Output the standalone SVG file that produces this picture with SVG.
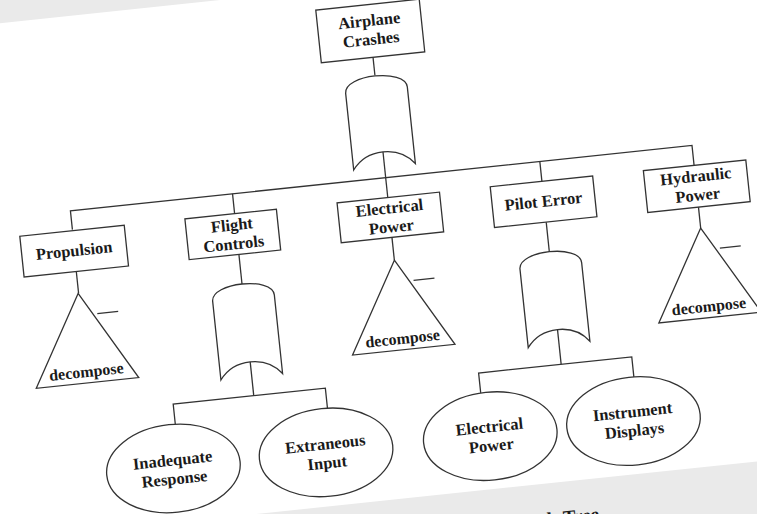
<svg xmlns="http://www.w3.org/2000/svg" width="757" height="514" viewBox="0 0 757 514">
<style>
.s{fill:#fff;stroke:#333;stroke-width:1.3}
.c{fill:none;stroke:#333;stroke-width:1.3}
.t{font-family:"Liberation Serif","Times New Roman",serif;font-weight:bold;font-size:16.5px;fill:#1a1a1a;text-anchor:middle}
.d{font-family:"Liberation Serif","Times New Roman",serif;font-weight:bold;font-size:16px;fill:#1a1a1a;text-anchor:middle}
</style>
<rect x="0" y="0" width="757" height="514" fill="#eaeaea"/>
<g transform="rotate(-6)">
<rect x="-200" y="23" width="1200" height="515" fill="#fff"/>
<text x="542" y="580" font-family="Liberation Serif, serif" font-weight="bold" font-size="19" fill="#1a1a1a" text-anchor="end">Fault Tree</text>

<g id="connectors" class="c">
<path d="M365,96 V114"/>
<path d="M365,191 V237"/>
<path d="M48,236 V217 H673 V238"/>
<path d="M211,217 V237"/>
<path d="M520,217 V237"/>
<path d="M47.5,278 V300"/>
<path d="M211,278 V308"/>
<path d="M365,277 V300"/>
<path d="M520,278 V308"/>
<path d="M673,278 V300"/>
<path d="M211,386 V420"/>
<path d="M130,440 V420 H283 V440"/>
<path d="M520,386 V421"/>
<path d="M437,441 V421 H591 V441"/>
</g>

<g id="airplane-crashes">
<rect class="s" x="313" y="43" width="104" height="53"/>
<text class="t" x="365" y="64.5">Airplane</text>
<text class="t" x="365" y="83.5">Crashes</text>
</g>
<g id="or-gate-top">
<path class="s" d="M334,129 C334,110 396,110 396,129 L396,206 C381,186 349,186 334,206 Z"/>
</g>

<g id="propulsion">
<rect class="s" x="-5" y="237" width="105" height="41"/>
<text class="t" x="47.5" y="262.5">Propulsion</text>
</g>
<g id="flight-controls">
<rect class="s" x="161" y="237" width="92" height="41"/>
<text class="t" x="207" y="253.5">Flight</text>
<text class="t" x="207" y="272.5">Controls</text>
</g>
<g id="electrical-power">
<rect class="s" x="314" y="237" width="103" height="40"/>
<text class="t" x="365.5" y="253">Electrical</text>
<text class="t" x="365.5" y="272">Power</text>
</g>
<g id="pilot-error">
<rect class="s" x="468" y="237" width="103" height="41"/>
<text class="t" x="519.5" y="262.5">Pilot Error</text>
</g>
<g id="hydraulic-power">
<rect class="s" x="622" y="237" width="103" height="42"/>
<text class="t" x="673.5" y="253.5">Hydraulic</text>
<text class="t" x="673.5" y="272.5">Power</text>
</g>

<g id="transfer-propulsion">
<path class="s" d="M47,300 L98.5,390 L-4.5,390 Z"/>
<path class="c" d="M64,322 H85"/>
<text class="d" x="47" y="384">decompose</text>
</g>
<g id="transfer-electrical">
<path class="s" d="M365,300 L416.5,390 L313.5,390 Z"/>
<path class="c" d="M382,322 H403"/>
<text class="d" x="365" y="384">decompose</text>
</g>
<g id="transfer-hydraulic">
<path class="s" d="M673,300 L724.5,390 L621.5,390 Z"/>
<path class="c" d="M690,322 H711"/>
<text class="d" x="673" y="384">decompose</text>
</g>

<g id="or-gate-flight">
<path class="s" d="M180,322 C180,303 242,303 242,322 L242,401 C227,381 195,381 180,401 Z"/>
</g>
<g id="or-gate-pilot">
<path class="s" d="M489,322 C489,303 551,303 551,322 L551,401 C536,381 504,381 489,401 Z"/>
</g>

<g id="inadequate-response">
<ellipse class="s" cx="123.5" cy="484" rx="67" ry="44"/>
<text class="t" x="123.5" y="481">Inadequate</text>
<text class="t" x="123.5" y="500">Response</text>
</g>
<g id="extraneous-input">
<ellipse class="s" cx="277" cy="484" rx="67" ry="44"/>
<text class="t" x="277" y="481">Extraneous</text>
<text class="t" x="277" y="500">Input</text>
</g>
<g id="electrical-power-event">
<ellipse class="s" cx="442" cy="485" rx="67" ry="44"/>
<text class="t" x="442" y="481">Electrical</text>
<text class="t" x="442" y="500">Power</text>
</g>
<g id="instrument-displays">
<ellipse class="s" cx="586" cy="485" rx="67" ry="44"/>
<text class="t" x="586" y="481">Instrument</text>
<text class="t" x="586" y="500">Displays</text>
</g>
</g>
</svg>
